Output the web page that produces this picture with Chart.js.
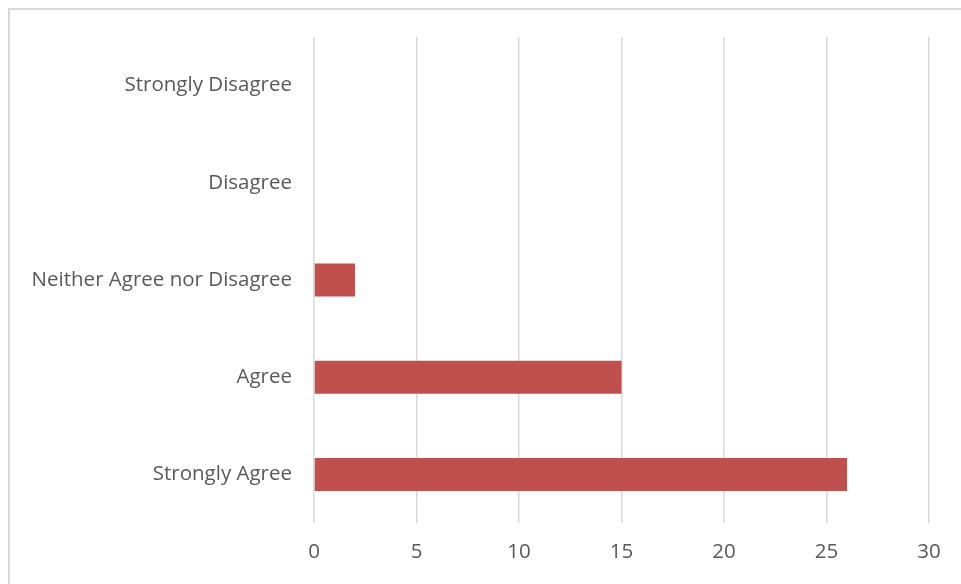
<!DOCTYPE html>
<html>
<head>
<meta charset="utf-8">
<script src="https://cdn.jsdelivr.net/npm/chart.js@4/dist/chart.umd.min.js"></script>
<style>
  html, body { margin: 0; padding: 0; background: #ffffff; }
  #wrap { position: relative; width: 961px; height: 584px; overflow: hidden; }
  #frame { position: absolute; left: 8px; top: 8px; width: 1000px; height: 1000px;
           border-top: 2px solid #d9d9d9; border-left: 2px solid #d9d9d9; box-sizing: border-box; }
  canvas { position: absolute; left: 0; top: 0; }
</style>
</head>
<body>
<div id="wrap">
  <div id="frame"></div>
  <canvas id="c" width="961" height="584"></canvas>
</div>
<script>
// Survey responses, listed top to bottom
const categories = ["Strongly Disagree", "Disagree", "Neither Agree nor Disagree", "Agree", "Strongly Agree"];
const counts = [0, 0, 2, 15, 26];
const xTicks = [0, 5, 10, 15, 20, 25, 30];

const labelFont = { family: "'Open Sans', 'Noto Sans', sans-serif", size: 20.5 };

new Chart(document.getElementById('c'), {
  type: 'bar',
  data: {
    labels: categories,
    datasets: [{
      data: counts,
      backgroundColor: '#c0504d',
      borderWidth: 0,
      categoryPercentage: 1,
      barPercentage: 0.34
    }]
  },
  options: {
    indexAxis: 'y',
    responsive: false,
    animation: false,
    layout: { padding: { top: 37, right: 32, left: 0, bottom: 0 } },
    plugins: { legend: { display: false }, tooltip: { enabled: false } },
    scales: {
      x: {
        min: xTicks[0],
        max: xTicks[xTicks.length - 1],
        afterBuildTicks: (axis) => { axis.ticks = xTicks.map(v => ({ value: v })); },
        afterFit: (axis) => { axis.height = 61; },
        grid: { color: '#d9d9d9', lineWidth: 1.5, drawTicks: false },
        border: { display: false },
        ticks: { color: '#595959', font: labelFont, padding: 17 }
      },
      y: {
        afterFit: (axis) => { axis.width = 314; },
        grid: { display: false, drawTicks: false },
        border: { display: false },
        ticks: { color: '#595959', font: labelFont, padding: 22 }
      }
    }
  }
});
</script>
</body>
</html>
